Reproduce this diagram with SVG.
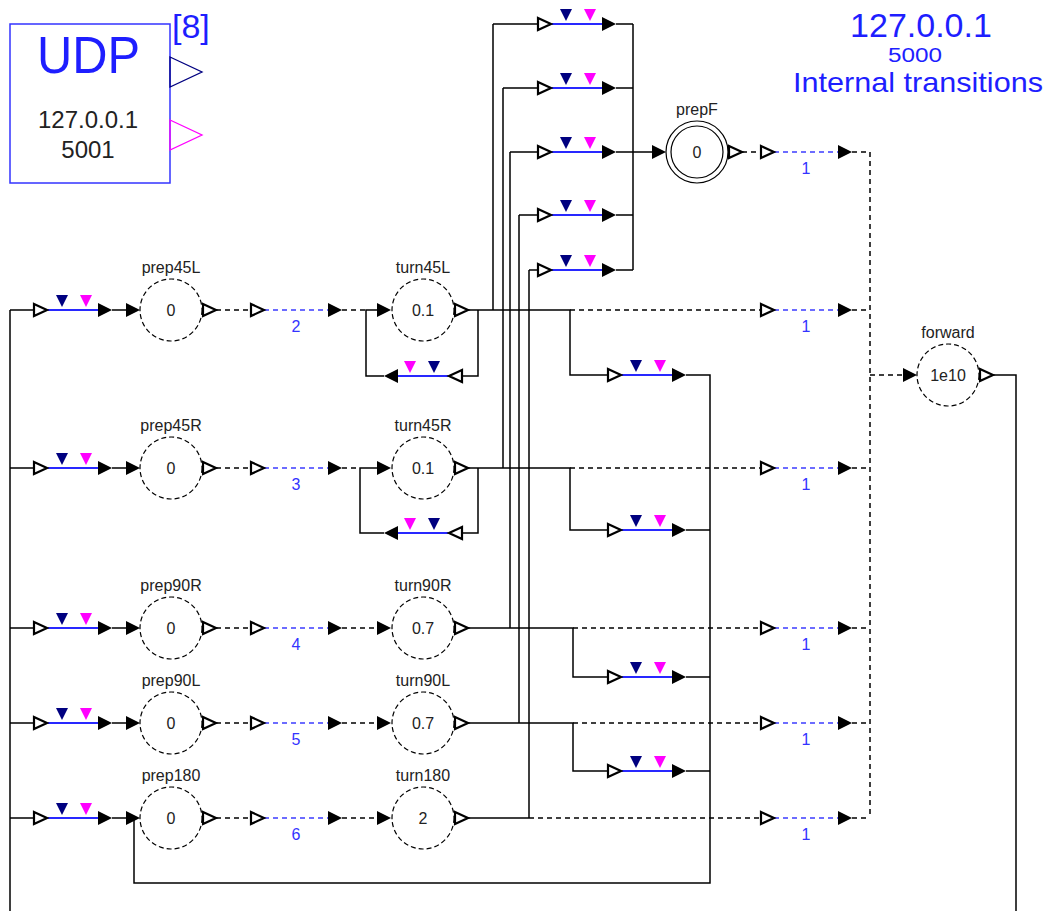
<svg xmlns="http://www.w3.org/2000/svg" xmlns:xlink="http://www.w3.org/1999/xlink" width="1051" height="911" viewBox="0 0 1051 911">
<style>
.ln{stroke:#000;stroke-width:1.5;fill:none}
.dl{stroke:#000;stroke-width:1.5;fill:none;stroke-dasharray:5,4}
.bl{stroke:#2828ff;stroke-width:2;fill:none}
.bd{stroke:#3c3cff;stroke-width:1.5;fill:none;stroke-dasharray:5,4}
.st{fill:#fff;stroke:#000;stroke-width:1.2;stroke-dasharray:5,3}
.sf{fill:#fff;stroke:#000;stroke-width:1.2}
.lb{font-family:"Liberation Sans",Arial,sans-serif;font-size:16px;fill:#222;text-anchor:middle}
.nb{font-family:"Liberation Sans",Arial,sans-serif;font-size:16px;fill:#3333ff;text-anchor:middle}
.big{font-family:"Liberation Sans",Arial,sans-serif;fill:#1e1eff}
</style>
<defs>
<polygon id="fa" points="0,-7 14,0 0,7" fill="#000"/>
<polygon id="oa" points="1,-6 14,0 1,6" fill="#fff" stroke="#000" stroke-width="2.2"/>
<g id="tr">
<line class="bl" x1="15" y1="0" x2="65" y2="0"/>
<polygon points="23,-15 35,-15 29,-3" fill="#000080"/>
<polygon points="47,-15 59,-15 53,-3" fill="#ff00ff"/>
<use xlink:href="#oa"/>
<use xlink:href="#fa" x="65"/>
</g>
<g id="tr1">
<line class="bd" x1="14" y1="0" x2="78" y2="0"/>
<use xlink:href="#oa"/>
<use xlink:href="#fa" x="78"/>
</g>
</defs>
<rect width="1051" height="911" fill="#fff"/>

<g id="connectors">
<path class="ln" d="M10,310 V911 M10,310 H33 M10,468 H33 M10,628 H33 M10,723 H33 M10,818 H33
M112,310 H126 M112,468 H126 M112,628 H126 M112,723 H126 M112,818 H126
M493,24 V310 M503,88 V468 M510,152 V628 M519,215 V723 M529,270 V818
M493,24 H537 M503,88 H537 M510,152 H537 M519,215 H537 M529,270 H537
M616,24 H633 M616,88 H633 M616,152 H633 M616,215 H633 M616,270 H633
M633,24 V270 M633,152 H652
M468,310 H570 V375 H607 M686,375 H710 V883 H134 V818
M468,468 H570 V530 H607 M686,530 H710
M468,628 H573 V677 H607 M686,677 H710
M468,723 H573 V771 H607 M686,771 H710
M468,818 H529
M478,310 V376 H463 M384,376 H366 V310 H377
M478,468 V533 H463 M384,533 H360 V468 H377
M993,375 H1016 V911"/>
<path class="dl" d="M216,310 H250 M216,468 H250 M216,628 H250 M216,723 H250 M216,818 H250
M342,310 H366 M342,468 H360 M342,628 H377 M342,723 H377 M342,818 H377
M570,310 H760 M570,468 H760 M573,628 H760 M573,723 H760 M529,818 H760
M852,310 H870 M852,468 H870 M852,628 H870 M852,723 H870 M852,818 H870
M742,152 H760 M852,152 H870 M870,152 V818 M870,375 H903"/>
<use xlink:href="#fa" x="126" y="310"/><use xlink:href="#fa" x="126" y="468"/><use xlink:href="#fa" x="126" y="628"/><use xlink:href="#fa" x="126" y="723"/><use xlink:href="#fa" x="126" y="818"/>
<use xlink:href="#fa" x="377" y="310"/><use xlink:href="#fa" x="377" y="468"/><use xlink:href="#fa" x="377" y="628"/><use xlink:href="#fa" x="377" y="723"/><use xlink:href="#fa" x="377" y="818"/>
<use xlink:href="#oa" x="202" y="310"/><use xlink:href="#oa" x="202" y="468"/><use xlink:href="#oa" x="202" y="628"/><use xlink:href="#oa" x="202" y="723"/><use xlink:href="#oa" x="202" y="818"/>
<use xlink:href="#oa" x="454" y="310"/><use xlink:href="#oa" x="454" y="468"/><use xlink:href="#oa" x="454" y="628"/><use xlink:href="#oa" x="454" y="723"/><use xlink:href="#oa" x="454" y="818"/>
<use xlink:href="#fa" x="652" y="152"/><use xlink:href="#oa" x="728" y="152"/>
<use xlink:href="#fa" x="903" y="375"/><use xlink:href="#oa" x="979" y="375"/>
</g>

<g id="udp">
<rect x="10" y="24" width="160" height="159" fill="#fff" stroke="#3333ff" stroke-width="1.5"/>
<text class="big" x="37" y="73" font-size="52" textLength="103" lengthAdjust="spacingAndGlyphs">UDP</text>
<text class="big" x="172" y="38" font-size="34">[8]</text>
<text x="88" y="128" font-family="Liberation Sans,Arial,sans-serif" font-size="24" fill="#222" text-anchor="middle">127.0.0.1</text>
<text x="88" y="158" font-family="Liberation Sans,Arial,sans-serif" font-size="24" fill="#222" text-anchor="middle">5001</text>
<polygon points="170,57 202,72 170,87" fill="none" stroke="#000080" stroke-width="1.3"/>
<polygon points="170,120 202,135 170,150" fill="none" stroke="#ff00ff" stroke-width="1.3"/>
</g>

<g id="title">
<text class="big" x="921" y="37" font-size="34" text-anchor="middle">127.0.0.1</text>
<text class="big" x="888" y="62" font-size="20" textLength="54" lengthAdjust="spacingAndGlyphs">5000</text>
<text class="big" x="793" y="92" font-size="28" textLength="250" lengthAdjust="spacingAndGlyphs">Internal transitions</text>
</g>

<g id="transitions-input">
<use xlink:href="#tr" x="33" y="310"/><use xlink:href="#tr" x="33" y="468"/><use xlink:href="#tr" x="33" y="628"/><use xlink:href="#tr" x="33" y="723"/><use xlink:href="#tr" x="33" y="818"/>
</g>
<g id="transitions-top">
<use xlink:href="#tr" x="537" y="24"/><use xlink:href="#tr" x="537" y="88"/><use xlink:href="#tr" x="537" y="152"/><use xlink:href="#tr" x="537" y="215"/><use xlink:href="#tr" x="537" y="270"/>
</g>
<g id="transitions-back">
<use xlink:href="#tr" x="607" y="375"/><use xlink:href="#tr" x="607" y="530"/><use xlink:href="#tr" x="607" y="677"/><use xlink:href="#tr" x="607" y="771"/>
</g>
<g id="transitions-loop">
<use xlink:href="#tr" transform="translate(463,376) scale(-1,1)"/>
<use xlink:href="#tr" transform="translate(463,533) scale(-1,1)"/>
</g>
<g id="timed-transitions">
<use xlink:href="#tr1" x="250" y="310"/><text class="nb" x="296" y="332">2</text>
<use xlink:href="#tr1" x="250" y="468"/><text class="nb" x="296" y="490">3</text>
<use xlink:href="#tr1" x="250" y="628"/><text class="nb" x="296" y="650">4</text>
<use xlink:href="#tr1" x="250" y="723"/><text class="nb" x="296" y="745">5</text>
<use xlink:href="#tr1" x="250" y="818"/><text class="nb" x="296" y="840">6</text>
<use xlink:href="#tr1" x="760" y="152"/><text class="nb" x="806" y="174">1</text>
<use xlink:href="#tr1" x="760" y="310"/><text class="nb" x="806" y="332">1</text>
<use xlink:href="#tr1" x="760" y="468"/><text class="nb" x="806" y="490">1</text>
<use xlink:href="#tr1" x="760" y="628"/><text class="nb" x="806" y="650">1</text>
<use xlink:href="#tr1" x="760" y="723"/><text class="nb" x="806" y="745">1</text>
<use xlink:href="#tr1" x="760" y="818"/><text class="nb" x="806" y="840">1</text>
</g>

<g id="prep45L"><circle class="st" cx="171" cy="310" r="31"/><text class="lb" x="171" y="273">prep45L</text><text class="lb" x="171" y="316">0</text></g>
<g id="prep45R"><circle class="st" cx="171" cy="468" r="31"/><text class="lb" x="171" y="431">prep45R</text><text class="lb" x="171" y="474">0</text></g>
<g id="prep90R"><circle class="st" cx="171" cy="628" r="31"/><text class="lb" x="171" y="591">prep90R</text><text class="lb" x="171" y="634">0</text></g>
<g id="prep90L"><circle class="st" cx="171" cy="723" r="31"/><text class="lb" x="171" y="686">prep90L</text><text class="lb" x="171" y="729">0</text></g>
<g id="prep180"><circle class="st" cx="171" cy="818" r="31"/><text class="lb" x="171" y="781">prep180</text><text class="lb" x="171" y="824">0</text></g>

<g id="turn45L"><circle class="st" cx="423" cy="310" r="31"/><text class="lb" x="423" y="273">turn45L</text><text class="lb" x="423" y="316">0.1</text></g>
<g id="turn45R"><circle class="st" cx="423" cy="468" r="31"/><text class="lb" x="423" y="431">turn45R</text><text class="lb" x="423" y="474">0.1</text></g>
<g id="turn90R"><circle class="st" cx="423" cy="628" r="31"/><text class="lb" x="423" y="591">turn90R</text><text class="lb" x="423" y="634">0.7</text></g>
<g id="turn90L"><circle class="st" cx="423" cy="723" r="31"/><text class="lb" x="423" y="686">turn90L</text><text class="lb" x="423" y="729">0.7</text></g>
<g id="turn180"><circle class="st" cx="423" cy="818" r="31"/><text class="lb" x="423" y="781">turn180</text><text class="lb" x="423" y="824">2</text></g>

<g id="prepF"><circle class="sf" cx="697" cy="152" r="31"/><circle class="sf" cx="697" cy="152" r="26"/><text class="lb" x="697" y="115">prepF</text><text class="lb" x="697" y="158">0</text></g>
<g id="forward"><circle class="st" cx="948" cy="375" r="31"/><text class="lb" x="948" y="338">forward</text><text class="lb" x="948" y="381">1e10</text></g>
</svg>
